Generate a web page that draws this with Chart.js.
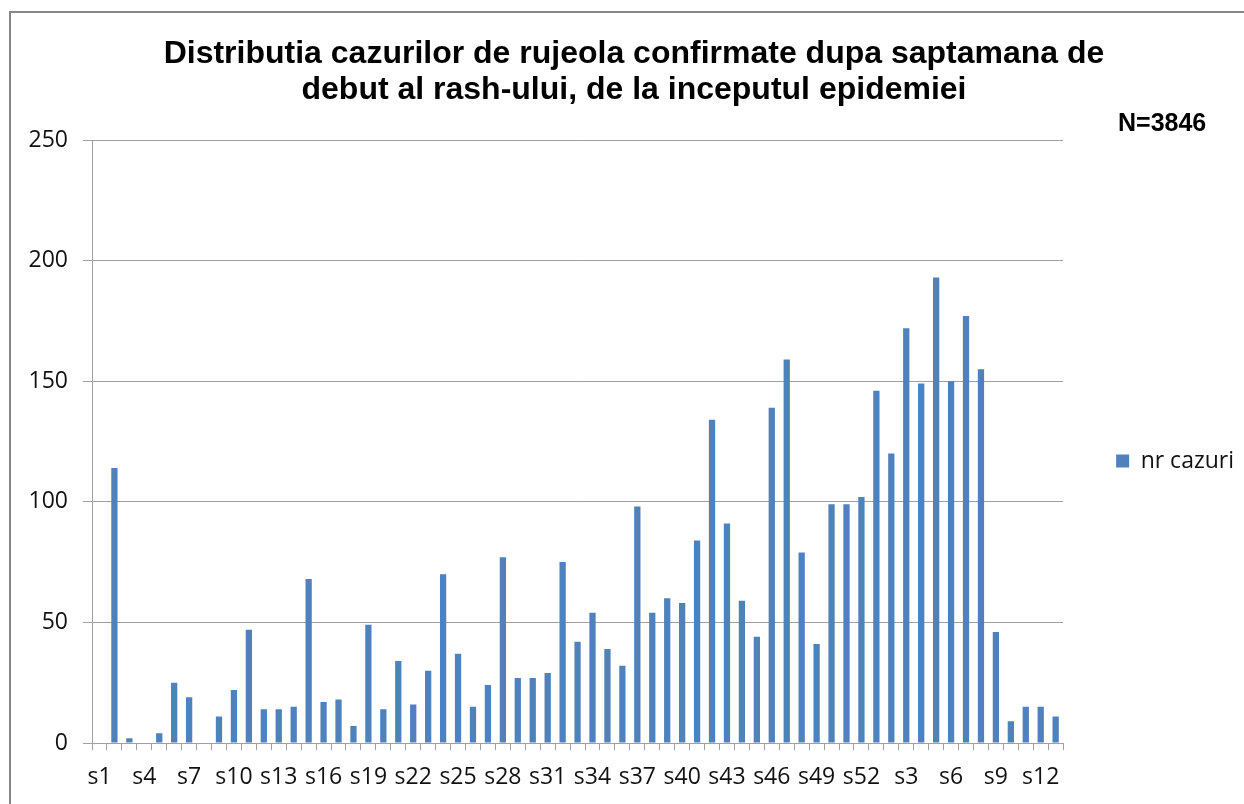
<!DOCTYPE html>
<html>
<head>
<meta charset="utf-8">
<script src="https://cdn.jsdelivr.net/npm/chart.js@4/dist/chart.umd.min.js"></script>
<style>
  html, body { margin: 0; padding: 0; background: #fff; }
  #wrap { width: 1244px; height: 804px; position: relative; }
</style>
</head>
<body>
<div id="wrap"><canvas id="chartRujeola"></canvas></div>
<script>
// saptamani (anul 1: s1..s52, anul 2: s1..s13)
const saptAn1 = ['s1','s2','s3','s4','s5','s6','s7','s8','s9','s10','s11','s12','s13','s14','s15','s16','s17','s18','s19','s20',
  's21','s22','s23','s24','s25','s26','s27','s28','s29','s30','s31','s32','s33','s34','s35','s36','s37','s38','s39','s40',
  's41','s42','s43','s44','s45','s46','s47','s48','s49','s50','s51','s52'];
const saptAn2 = ['s1','s2','s3','s4','s5','s6','s7','s8','s9','s10','s11','s12','s13'];

const cazuriAn1 = [0,114,2,0,4,25,19,0,11,22,47,14,14,15,68,17,18,7,49,14,
  34,16,30,70,37,15,24,77,27,27,29,75,42,54,39,32,98,54,60,58,
  84,134,91,59,44,139,159,79,41,99,99,102];
const cazuriAn2 = [146,120,172,149,193,150,177,155,46,9,15,15,11];

const yTicks = [0, 50, 100, 150, 200, 250];
const TITLU = ['Distributia cazurilor de rujeola confirmate dupa saptamana de', 'debut al rash-ului, de la inceputul epidemiei'];
const NOTA = 'N=3846';

const labels = [...saptAn1, ...saptAn2];
const cazuri = [...cazuriAn1, ...cazuriAn2];

const GRID = '#a0a0a0';
Chart.defaults.font.family = "'Open Sans', sans-serif";
Chart.defaults.color = '#111';

// rama + nota N=
const extras = {
  id: 'extras',
  afterDraw(chart) {
    const ctx = chart.ctx;
    ctx.save();
    ctx.strokeStyle = '#878787';
    ctx.lineWidth = 2;
    ctx.beginPath();
    ctx.moveTo(10, 804);
    ctx.lineTo(10, 12);
    ctx.lineTo(1244, 12);
    ctx.stroke();
    ctx.fillStyle = '#000';
    ctx.font = "bold 25px 'Liberation Sans', Arial, sans-serif";
    ctx.textBaseline = 'alphabetic';
    ctx.fillText(NOTA, 1118, 131);
    ctx.restore();
  }
};

new Chart(document.getElementById('chartRujeola'), {
  type: 'bar',
  data: {
    labels,
    datasets: [{
      label: 'nr cazuri',
      data: cazuri,
      backgroundColor: '#4f81bd',
      borderWidth: 0,
      barPercentage: 0.42,
      categoryPercentage: 1.0,
    }]
  },
  options: {
    responsive: true,
    maintainAspectRatio: false,
    animation: false,
    layout: { padding: { left: 24, right: 0, top: 0, bottom: 0 } },
    plugins: {
      title: {
        display: true,
        text: TITLU,
        color: '#000',
        font: { family: "'Liberation Sans', Arial, sans-serif", size: 32, weight: 'bold', lineHeight: 1.125 },
        padding: { top: 36, bottom: 32 },
      },
      legend: {
        position: 'right',
        title: { display: true, text: '', font: { size: 1 }, padding: { top: 0, bottom: 117 } },
        labels: {
          boxWidth: 13,
          boxHeight: 13,
          padding: 53,
          color: '#111',
          font: { size: 23 },
        }
      },
      tooltip: { enabled: false },
    },
    scales: {
      x: {
        offset: true,
        grid: { display: true, drawOnChartArea: false, drawTicks: true, tickLength: 7, color: GRID, offset: true },
        border: { display: true, color: GRID },
        ticks: {
          autoSkip: false,
          maxRotation: 0,
          minRotation: 0,
          padding: 14,
          font: { size: 23 },
          callback: (v, i) => (i % 3 === 0 ? labels[i] : ''),
        },
        afterFit: s => { s.height = 61; },
      },
      y: {
        min: 0,
        max: 250,
        afterBuildTicks: s => { s.ticks = yTicks.map(v => ({ value: v })); },
        grid: { color: GRID, tickLength: 9 },
        border: { display: true, color: GRID },
        ticks: { padding: 15, font: { size: 23 } },
        afterFit: s => { s.width = 68; },
      }
    }
  },
  plugins: [extras]
});
</script>
</body>
</html>
